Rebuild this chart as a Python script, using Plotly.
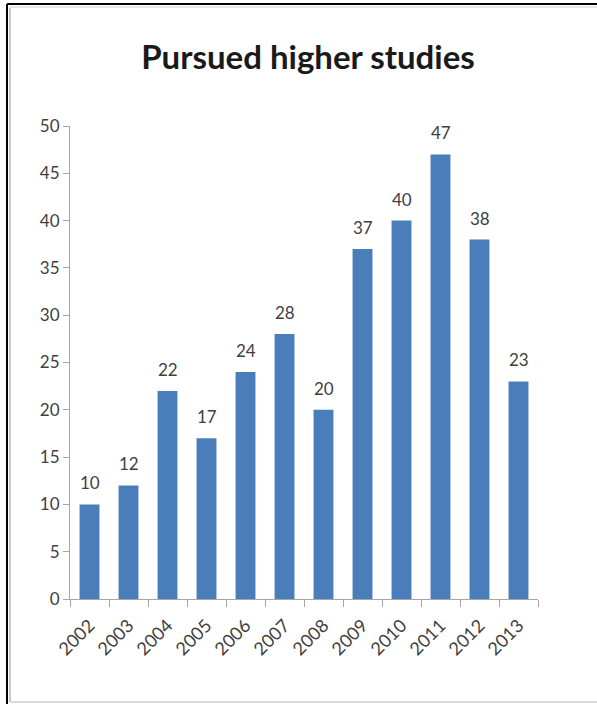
import plotly.graph_objects as go

years = ["2002", "2003", "2004", "2005", "2006", "2007", "2008", "2009", "2010", "2011", "2012", "2013"]
values = [10, 12, 22, 17, 24, 28, 20, 37, 40, 47, 38, 23]
y_ticks = [0, 5, 10, 15, 20, 25, 30, 35, 40, 45, 50]
title_text = "Pursued higher studies"

W, H = 597, 704
L, R, T, B = 70, 59, 126, 105
pw, ph = W - L - R, H - T - B

def px(x):
    return (x - L) / pw

def py(y):
    return (H - B - y) / ph

FONT = "Lato"
TXT = "#404040"

fig = go.Figure()
fig.add_trace(go.Bar(
    x=years, y=values,
    marker=dict(color="#4a7ebb", line=dict(width=0)),
    width=0.51,
    hoverinfo="x+y",
))

annotations = [
    dict(x=i, y=v, xref="x", yref="y", text=str(v), showarrow=False,
         yanchor="bottom", yshift=9, font=dict(family=FONT, size=17, color=TXT))
    for i, v in enumerate(values)
]

shapes = [
    dict(type="line", xref="paper", yref="paper", x0=px(7), x1=px(600), y0=py(4), y1=py(4),
         line=dict(color="black", width=2)),
    dict(type="line", xref="paper", yref="paper", x0=px(7), x1=px(7), y0=py(4), y1=py(704),
         line=dict(color="black", width=2)),
    dict(type="line", xref="paper", yref="paper", x0=px(10), x1=px(10), y0=py(7), y1=py(702),
         line=dict(color="#c8c8c8", width=2)),
    dict(type="line", xref="paper", yref="paper", x0=px(10), x1=px(600), y0=py(702), y1=py(702),
         line=dict(color="#d8d8d8", width=2)),
    dict(type="line", xref="paper", yref="paper", x0=px(10), x1=px(600), y0=py(7), y1=py(7),
         line=dict(color="#e8e8e8", width=2)),
]

fig.update_layout(
    width=W, height=H,
    margin=dict(l=L, r=R, t=T, b=B),
    paper_bgcolor="white", plot_bgcolor="white",
    showlegend=False,
    title=dict(text="<b>" + title_text + "</b>", x=308 / W, xanchor="center",
               y=1 - 57 / H, yanchor="middle",
               font=dict(family=FONT, size=33, color="#1a1a1a")),
    shapes=shapes,
    annotations=annotations,
)
fig.update_xaxes(
    type="category",
    range=[-0.5, len(years) - 0.5],
    showline=True, linecolor="#a6a6a6", linewidth=1,
    ticks="outside", ticklen=7, tickcolor="#a6a6a6",
    tickson="boundaries",
    tickangle=-45,
    ticklabelstandoff=8,
    tickfont=dict(family=FONT, size=18, color=TXT),
    showgrid=False,
)
fig.update_yaxes(
    range=[0, 50],
    tickvals=y_ticks,
    showline=True, linecolor="#a6a6a6", linewidth=1,
    ticks="outside", ticklen=6, tickcolor="#a6a6a6",
    tickfont=dict(family=FONT, size=17, color=TXT),
    showgrid=False, zeroline=False,
)
fig.write_html("out.html",
               config={"displayModeBar": False},
               post_script="document.body.style.margin='0';document.body.style.overflow='hidden';")
